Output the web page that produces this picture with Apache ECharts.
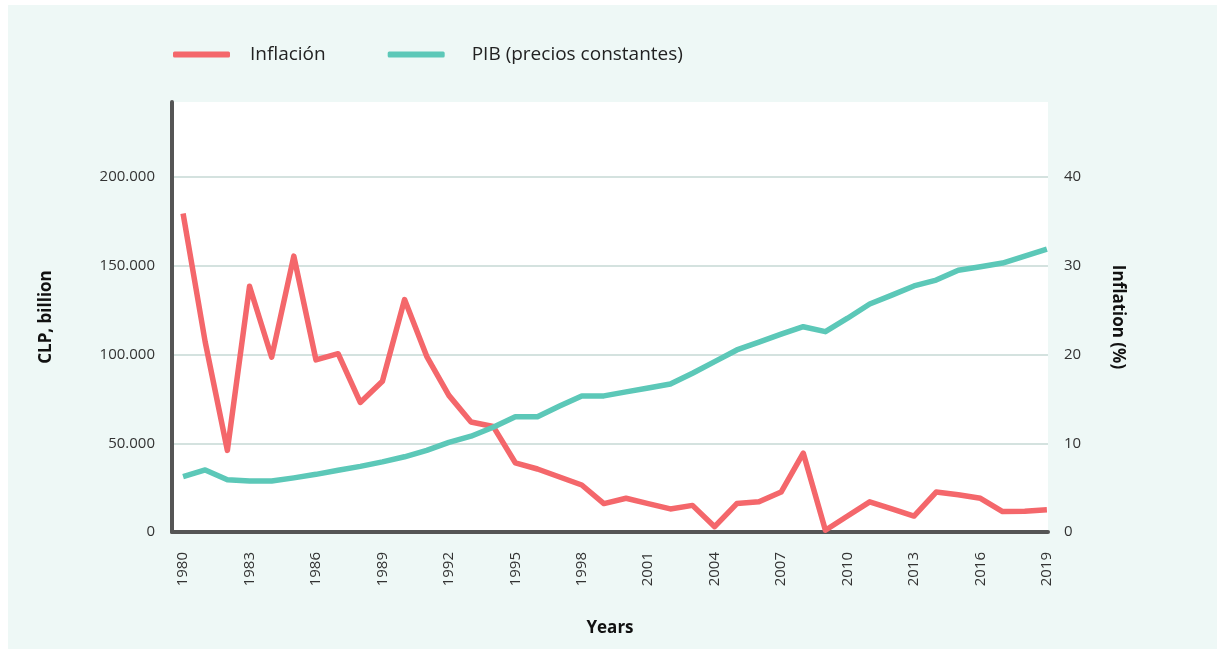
<!DOCTYPE html>
<html>
<head>
<meta charset="utf-8">
<script src="https://cdn.jsdelivr.net/npm/echarts@6/dist/echarts.min.js"></script>
<style>
  html, body { margin: 0; padding: 0; background: #fff; }
  #main { position: absolute; left: 8px; top: 5px; width: 1209px; height: 644px; background: #eef8f6; }
</style>
</head>
<body>
<div id="main"></div>
<script>
// años, inflación (%), PIB a precios constantes (CLP, billion)
var years = [1980, 1981, 1982, 1983, 1984, 1985, 1986, 1987, 1988, 1989,
  1990, 1991, 1992, 1993, 1994, 1995, 1996, 1997, 1998, 1999,
  2000, 2001, 2002, 2003, 2004, 2005, 2006, 2007, 2008, 2009,
  2010, 2011, 2012, 2013, 2014, 2015, 2016, 2017, 2018, 2019];

var inflation = [35.9, 21.4, 9.2, 27.7, 19.7, 31.1, 19.4, 20.1, 14.6, 17.0,
  26.2, 19.8, 15.4, 12.4, 11.9, 7.8, 7.1, 6.2, 5.3, 3.2,
  3.8, 3.2, 2.6, 3.0, 0.6, 3.2, 3.4, 4.5, 8.9, 0.2,
  1.8, 3.4, 2.6, 1.8, 4.5, 4.2, 3.8, 2.3, 2.35, 2.5];

var pib = [31200, 35000, 29500, 28700, 28700, 30500, 32500, 34800, 37000, 39500,
  42400, 46000, 50500, 54000, 59000, 65000, 65000, 71000, 76700, 76700,
  79000, 81200, 83400, 89500, 96000, 102600, 107000, 111500, 115700, 112900,
  120500, 128500, 133500, 138700, 142000, 147500, 149500, 151600, 155500, 159500];

var yearTicks = [1980, 1983, 1986, 1989, 1992, 1995, 1998, 2001, 2004, 2007, 2010, 2013, 2016, 2019];

var font = 'Open Sans';

var chartDom = document.getElementById('main');
var myChart = echarts.init(chartDom);
var option;

var nameStyle = { fontSize: 17, fontWeight: 'bold', color: '#111', fontFamily: font };

option = {
  backgroundColor: '#eef8f6',
  animation: false,
  textStyle: { fontFamily: font },
  legend: {
    left: 160,
    top: 35,
    itemWidth: 57,
    itemHeight: 6,
    itemGap: 62,
    icon: 'roundRect',
    textStyle: { fontSize: 19, color: '#222', fontFamily: font },
    data: [
      { name: 'Inflación', textStyle: { padding: [0, 0, 0, 15] } },
      { name: 'PIB (precios constantes)', textStyle: { padding: [0, 0, 0, 22] } }
    ]
  },
  grid: {
    left: 164,
    right: 169,
    top: 97,
    bottom: 117,
    show: true,
    backgroundColor: '#fff',
    borderWidth: 0
  },
  xAxis: {
    type: 'value',
    min: 1979.5,
    max: 2019.05,
    name: 'Years',
    nameLocation: 'middle',
    nameGap: 88,
    nameTextStyle: nameStyle,
    axisLine: { show: true, lineStyle: { color: '#555', width: 4 } },
    axisTick: { show: false },
    splitLine: { show: false },
    axisLabel: {
      customValues: yearTicks,
      rotate: 90,
      margin: 20,
      fontSize: 15,
      color: '#333',
      fontFamily: font,
      formatter: function (v) { return String(v); }
    }
  },
  yAxis: [
    {
      type: 'value',
      min: 0,
      max: 242360,
      interval: 50000,
      position: 'left',
      name: 'CLP, billion',
      nameLocation: 'middle',
      nameGap: 117,
      nameTextStyle: nameStyle,
      axisLine: { show: true, lineStyle: { color: '#555', width: 4 } },
      axisTick: { show: false },
      splitLine: { show: true, showMaxLine: false, lineStyle: { color: '#c6d9d4', width: 1.5 } },
      axisLabel: {
        margin: 17,
        fontSize: 15,
        color: '#333',
        fontFamily: font,
        showMaxLabel: false,
        formatter: function (v) {
          return v === 0 ? '0' : (v / 1000) + '.000';
        }
      }
    },
    {
      type: 'value',
      min: 0,
      max: 48.47,
      interval: 10,
      position: 'right',
      name: 'Inflation (%)',
      nameLocation: 'middle',
      nameRotate: -90,
      nameGap: 61,
      nameTextStyle: nameStyle,
      axisLine: { show: false },
      axisTick: { show: false },
      splitLine: { show: false },
      axisLabel: {
        margin: 16,
        fontSize: 15,
        color: '#333',
        fontFamily: font,
        showMaxLabel: false
      }
    }
  ],
  series: [
    {
      name: 'Inflación',
      type: 'line',
      yAxisIndex: 1,
      showSymbol: false,
      color: '#f4676b',
      lineStyle: { width: 5.5, color: '#f4676b', join: 'round' },
      data: years.map(function (y, i) { return [y, inflation[i]]; })
    },
    {
      name: 'PIB (precios constantes)',
      type: 'line',
      yAxisIndex: 0,
      showSymbol: false,
      color: '#5cc8b8',
      lineStyle: { width: 5.5, color: '#5cc8b8', join: 'round' },
      data: years.map(function (y, i) { return [y, pib[i]]; })
    }
  ]
};

option && myChart.setOption(option);
</script>
</body>
</html>
